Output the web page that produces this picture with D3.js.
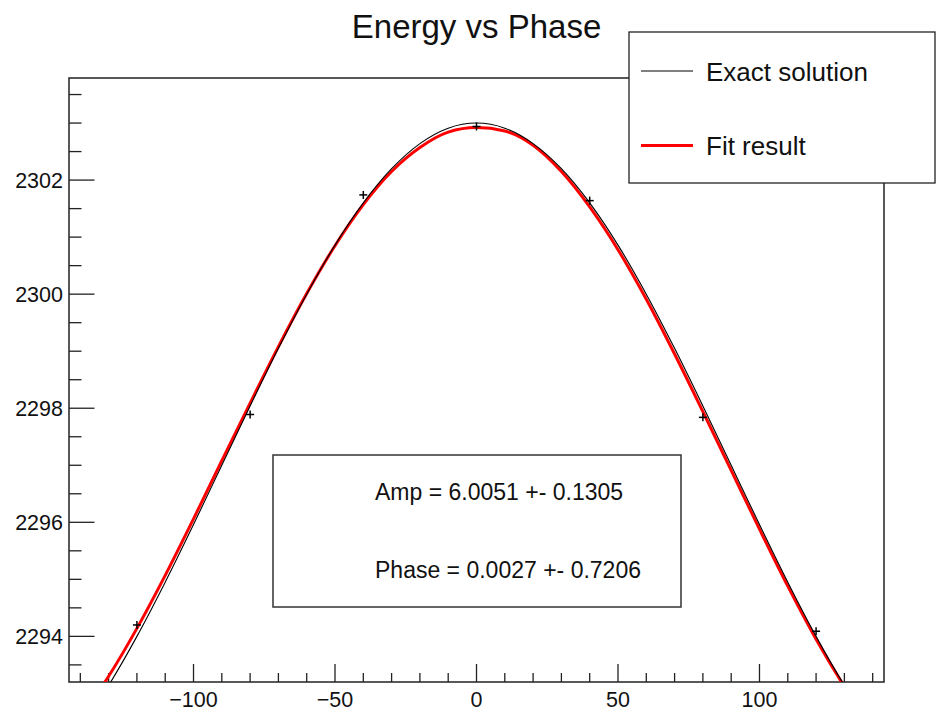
<!DOCTYPE html>
<html>
<head>
<meta charset="utf-8">
<script src="https://cdn.jsdelivr.net/npm/d3@7"></script>
<style>
  body { margin: 0; background: #fff; }
  text { font-family: "Liberation Sans", Arial, Helvetica, sans-serif; fill: #111; }
</style>
</head>
<body>
<script>
var phases = [-140, -130, -120, -110, -100, -90, -80, -70, -60, -50, -40, -30, -20, -10, 0,
              10, 20, 30, 40, 50, 60, 70, 80, 90, 100, 110, 120, 130, 140];
var exactE = [2292.40, 2293.14, 2294.00, 2294.95, 2295.96, 2297.00, 2298.04, 2299.05, 2300.00, 2300.86,
              2301.60, 2302.20, 2302.64, 2302.91, 2303.00, 2302.91, 2302.64, 2302.20, 2301.60, 2300.86,
              2300.00, 2299.05, 2298.04, 2297.00, 2295.96, 2294.95, 2294.00, 2293.14, 2292.40];
var fitE = [2292.58, 2293.30, 2294.14, 2295.07, 2296.06, 2297.08, 2298.09, 2299.08, 2300.01, 2300.85,
            2301.57, 2302.15, 2302.57, 2302.84, 2302.92, 2302.86, 2302.61, 2302.15, 2301.53, 2300.78,
            2299.91, 2298.95, 2297.94, 2296.91, 2295.88, 2294.88, 2293.95, 2293.12, 2292.38];
// measured points
var ptPhase = [-120, -80, -40, 0, 40, 80, 120];
var ptE = [2294.20, 2297.89, 2301.74, 2302.94, 2301.64, 2297.84, 2294.09];

var xMajor = [-100, -50, 0, 50, 100];
var yMajor = [2294, 2296, 2298, 2300, 2302];
var legendLabels = ["Exact solution", "Fit result"];
var statLines = ["Amp = 6.0051 +- 0.1305", "Phase = 0.0027 +- 0.7206"];

var W = 938, H = 711;
var pLeft = 69, pRight = 884, pTop = 78, pBottom = 682;

var svg = d3.select("body").append("svg").attr("width", W).attr("height", H);

var x = d3.scaleLinear().domain([-144, 144]).range([pLeft, pRight]);
var y = d3.scaleLinear().domain([2293.2, 2303.79]).range([pBottom, pTop]);

svg.append("defs").append("clipPath").attr("id", "plot")
    .append("rect").attr("x", pLeft).attr("y", pTop)
    .attr("width", pRight - pLeft).attr("height", pBottom - pTop);

// title
svg.append("text")
    .attr("x", (pLeft + pRight) / 2).attr("y", 38)
    .attr("text-anchor", "middle")
    .attr("font-size", 33)
    .text("Energy vs Phase");

// frame
svg.append("rect")
    .attr("x", pLeft).attr("y", pTop)
    .attr("width", pRight - pLeft).attr("height", pBottom - pTop)
    .attr("fill", "none").attr("stroke", "#222").attr("stroke-width", 1.5);

// x ticks
var xMinor = d3.range(-140, 141, 10).filter(v => xMajor.indexOf(v) < 0);
var gx = svg.append("g");
gx.selectAll("line.minor").data(xMinor).enter().append("line")
    .attr("x1", d => x(d)).attr("x2", d => x(d))
    .attr("y1", pBottom).attr("y2", pBottom - 9)
    .attr("stroke", "#222").attr("stroke-width", 1.3);
gx.selectAll("line.major").data(xMajor).enter().append("line")
    .attr("x1", d => x(d)).attr("x2", d => x(d))
    .attr("y1", pBottom).attr("y2", pBottom - 18)
    .attr("stroke", "#222").attr("stroke-width", 1.3);
gx.selectAll("text").data(xMajor).enter().append("text")
    .attr("x", d => x(d)).attr("y", 707)
    .attr("text-anchor", "middle").attr("font-size", 21.5)
    .text(d => d < 0 ? "\u2212" + Math.abs(d) : d);

// y ticks
var yMinor = d3.range(2293.5, 2303.8, 0.5).filter(v => yMajor.indexOf(v) < 0);
var gy = svg.append("g");
gy.selectAll("line.minor").data(yMinor).enter().append("line")
    .attr("x1", pLeft).attr("x2", pLeft + 12.5)
    .attr("y1", d => y(d)).attr("y2", d => y(d))
    .attr("stroke", "#222").attr("stroke-width", 1.3);
gy.selectAll("line.major").data(yMajor).enter().append("line")
    .attr("x1", pLeft).attr("x2", pLeft + 25.5)
    .attr("y1", d => y(d)).attr("y2", d => y(d))
    .attr("stroke", "#222").attr("stroke-width", 1.3);
gy.selectAll("text").data(yMajor).enter().append("text")
    .attr("x", pLeft - 6).attr("y", d => y(d) + 7.5)
    .attr("text-anchor", "end").attr("font-size", 21.5)
    .text(d => d);

// curves
var line = d3.line().x(d => x(d[0])).y(d => y(d[1])).curve(d3.curveMonotoneX);
var curves = svg.append("g").attr("clip-path", "url(#plot)");
curves.append("path")
    .datum(d3.zip(phases, fitE))
    .attr("d", line)
    .attr("fill", "none").attr("stroke", "#ff0000").attr("stroke-width", 3);
curves.append("path")
    .datum(d3.zip(phases, exactE))
    .attr("d", line)
    .attr("fill", "none").attr("stroke", "#000").attr("stroke-width", 1.1);

// data points as small crosses
var pts = svg.append("g").selectAll("g").data(d3.zip(ptPhase, ptE)).enter().append("g")
    .attr("transform", d => "translate(" + x(d[0]) + "," + y(d[1]) + ")");
pts.append("line").attr("x1", -4).attr("x2", 4).attr("stroke", "#000").attr("stroke-width", 1.5);
pts.append("line").attr("y1", -4).attr("y2", 4).attr("stroke", "#000").attr("stroke-width", 1.5);

// stats box
svg.append("rect")
    .attr("x", 273).attr("y", 455).attr("width", 408).attr("height", 152)
    .attr("fill", "#fff").attr("stroke", "#333").attr("stroke-width", 1.5);
svg.selectAll("text.stat").data(statLines).enter().append("text")
    .attr("class", "stat")
    .attr("x", 375).attr("y", (d, i) => 500 + i * 78)
    .attr("font-size", 23)
    .text(d => d);

// legend
var lg = svg.append("g");
lg.append("rect")
    .attr("x", 629).attr("y", 32).attr("width", 306).attr("height", 151)
    .attr("fill", "#fff").attr("stroke", "#222").attr("stroke-width", 1.3);
var entries = lg.selectAll("g").data(legendLabels).enter().append("g")
    .attr("transform", (d, i) => "translate(0," + (71 + i * 74.5) + ")");
entries.append("line")
    .attr("x1", 641).attr("x2", 693)
    .attr("stroke", (d, i) => i === 0 ? "#000" : "#ff0000")
    .attr("stroke-width", (d, i) => i === 0 ? 1.1 : 3);
entries.append("text")
    .attr("x", 706).attr("y", 9.5)
    .attr("font-size", 26)
    .text(d => d);
</script>
</body>
</html>
